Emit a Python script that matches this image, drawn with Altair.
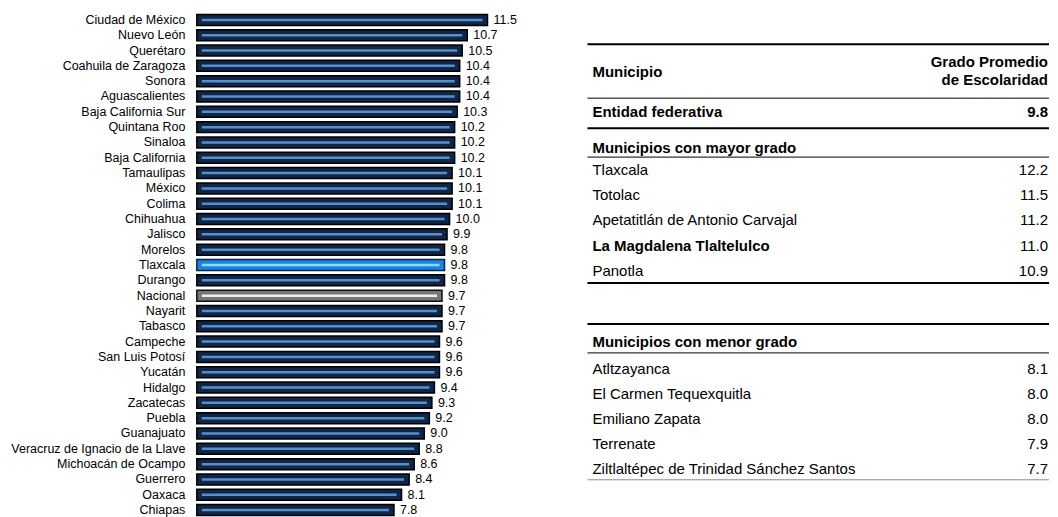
import altair as alt
import pandas as pd

# ---------------- data ----------------
estados = [
    "Ciudad de México", "Nuevo León", "Querétaro", "Coahuila de Zaragoza", "Sonora",
    "Aguascalientes", "Baja California Sur", "Quintana Roo", "Sinaloa", "Baja California",
    "Tamaulipas", "México", "Colima", "Chihuahua", "Jalisco", "Morelos", "Tlaxcala",
    "Durango", "Nacional", "Nayarit", "Tabasco", "Campeche", "San Luis Potosí", "Yucatán",
    "Hidalgo", "Zacatecas", "Puebla", "Guanajuato", "Veracruz de Ignacio de la Llave",
    "Michoacán de Ocampo", "Guerrero", "Oaxaca", "Chiapas",
]
valores = [
    11.5, 10.7, 10.5, 10.4, 10.4, 10.4, 10.3, 10.2, 10.2, 10.2,
    10.1, 10.1, 10.1, 10.0, 9.9, 9.8, 9.8, 9.8, 9.7, 9.7, 9.7,
    9.6, 9.6, 9.6, 9.4, 9.3, 9.2, 9.0, 8.8, 8.6, 8.4, 8.1, 7.8,
]
destacados = {"Tlaxcala": "Tlaxcala", "Nacional": "Nacional"}

entidad_valor = 9.8
mayor_nombres = ["Tlaxcala", "Totolac", "Apetatitlán de Antonio Carvajal",
                 "La Magdalena Tlaltelulco", "Panotla"]
mayor_valores = [12.2, 11.5, 11.2, 11.0, 10.9]
menor_nombres = ["Atltzayanca", "El Carmen Tequexquitla", "Emiliano Zapata",
                 "Terrenate", "Ziltlaltépec de Trinidad Sánchez Santos"]
menor_valores = [8.1, 8.0, 8.0, 7.9, 7.7]
en_negrita = ["La Magdalena Tlaltelulco"]

# ---------------- style / layout ----------------
FONT = "Liberation Sans"
PX_PER_UNIT = 25.3
LEFT_W = 390
H = 506
TW = 462

grupos = ["Estado", "Tlaxcala", "Nacional"]
relleno = ["#0f2647", "#1a84dc", "#767676"]
borde = ["#000000", "#06254d", "#111111"]
linea = ["#5a8ec8", "#8ad8ff", "#ededed"]

df = pd.DataFrame({"estado": estados, "valor": valores})
df["grupo"] = [destacados.get(e, "Estado") for e in estados]

xscale = alt.Scale(domain=[0, LEFT_W / PX_PER_UNIT], nice=False, zero=True)
y = alt.Y("estado:N", sort=estados,
          scale=alt.Scale(paddingInner=0, paddingOuter=0),
          axis=alt.Axis(title=None, domain=False, ticks=False, labelPadding=12,
                        labelFontSize=12.5, labelColor="black", labelFont=FONT,
                        labelLimit=400))

base = alt.Chart(df).encode(y=y)

barras = base.mark_bar(size=11, strokeWidth=1.5).encode(
    x=alt.X("valor:Q", scale=xscale, axis=None),
    fill=alt.Fill("grupo:N", scale=alt.Scale(domain=grupos, range=relleno), legend=None),
    stroke=alt.Stroke("grupo:N", scale=alt.Scale(domain=grupos, range=borde), legend=None),
)

brillo = base.transform_calculate(inicio="0").mark_rule(
    strokeWidth=2.5, xOffset=5, x2Offset=-5
).encode(
    x=alt.X("inicio:Q", scale=xscale, axis=None),
    x2="valor:Q",
    color=alt.Color("grupo:N", scale=alt.Scale(domain=grupos, range=linea), legend=None),
)

etiquetas = base.mark_text(align="left", dx=6, fontSize=12.5, font=FONT, color="black").encode(
    x=alt.X("valor:Q", scale=xscale, axis=None),
    text=alt.Text("valor:Q", format=".1f"),
)

izquierda = alt.layer(barras, brillo, etiquetas).properties(width=LEFT_W, height=H)

# ---------------- table ----------------
filas = []
filas.append({"texto": "Municipio", "y": 60, "negrita": True, "lado": "izq"})
filas.append({"texto": "Grado Promedio", "y": 50, "negrita": True, "lado": "der"})
filas.append({"texto": "de Escolaridad", "y": 68, "negrita": True, "lado": "der"})
filas.append({"texto": "Entidad federativa", "y": 100, "negrita": True, "lado": "izq"})
filas.append({"texto": f"{entidad_valor:.1f}", "y": 100, "negrita": True, "lado": "der"})
filas.append({"texto": "Municipios con mayor grado", "y": 136, "negrita": True, "lado": "izq"})
for i, (n, v) in enumerate(zip(mayor_nombres, mayor_valores)):
    yy = 158 + i * 25.2
    filas.append({"texto": n, "y": yy, "negrita": n in en_negrita, "lado": "izq"})
    filas.append({"texto": f"{v:.1f}", "y": yy, "negrita": False, "lado": "der"})
filas.append({"texto": "Municipios con menor grado", "y": 330, "negrita": True, "lado": "izq"})
for i, (n, v) in enumerate(zip(menor_nombres, menor_valores)):
    yy = 357 + i * 25.0
    filas.append({"texto": n, "y": yy, "negrita": n in en_negrita, "lado": "izq"})
    filas.append({"texto": f"{v:.1f}", "y": yy, "negrita": False, "lado": "der"})
tabla = pd.DataFrame(filas)

reglas = pd.DataFrame({
    "y": [32, 86, 116, 145, 271, 312, 341, 468],
    "w": [2, 1, 2, 1, 2, 2, 1, 1],
    "c": ["#000", "#000", "#000", "#000", "#000", "#000", "#000", "#8a8a8a"],
})

ty = alt.Scale(domain=[0, H], reverse=True, nice=False, zero=False)

def capa_texto(lado, negrita):
    return alt.Chart(tabla).transform_filter(
        (alt.datum.lado == lado) & (alt.datum.negrita == negrita)
    ).mark_text(
        align="left" if lado == "izq" else "right", baseline="middle",
        fontSize=15, font=FONT, color="black",
        fontWeight="bold" if negrita else "normal",
    ).encode(
        x=alt.value(5 if lado == "izq" else TW - 1),
        y=alt.Y("y:Q", scale=ty, axis=None),
        text="texto:N",
    )

lineas = alt.Chart(reglas).mark_rule().encode(
    y=alt.Y("y:Q", scale=ty, axis=None),
    x=alt.value(0), x2=alt.value(TW),
    strokeWidth=alt.StrokeWidth("w:Q", scale=None, legend=None),
    color=alt.Color("c:N", scale=None, legend=None),
)

derecha = alt.layer(
    lineas,
    capa_texto("izq", True), capa_texto("izq", False),
    capa_texto("der", True), capa_texto("der", False),
).properties(width=TW, height=H)

chart = alt.hconcat(izquierda, derecha, spacing=0).properties(
    padding={"left": 2, "top": 4, "right": 0, "bottom": 0},
    background="white",
).configure_view(strokeWidth=0, stroke="transparent")

chart.save("out.html", embed_options={"renderer": "svg", "actions": False})
